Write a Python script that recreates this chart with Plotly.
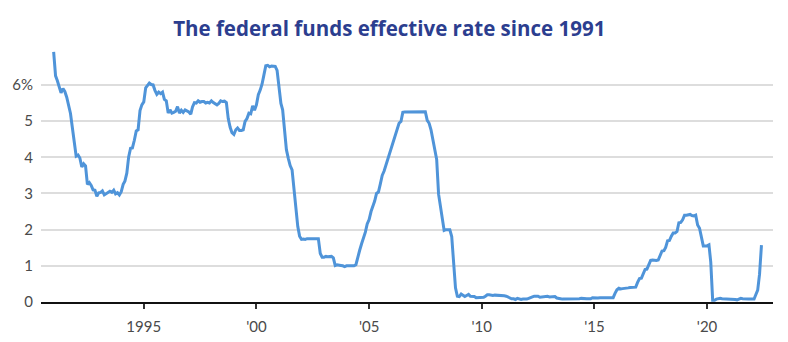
import pandas as pd
import plotly.graph_objects as go

# Monthly federal funds effective rate (%), Jan 1991 - Jun 2022
rates = [
    # 1991
    6.91, 6.25, 6.12, 5.91, 5.78, 5.90, 5.82, 5.66, 5.45, 5.21, 4.81, 4.43,
    # 1992
    4.03, 4.06, 3.98, 3.73, 3.82, 3.76, 3.25, 3.30, 3.22, 3.10, 3.09, 2.92,
    # 1993
    3.02, 3.03, 3.07, 2.96, 3.00, 3.04, 3.06, 3.03, 3.09, 2.99, 3.02, 2.96,
    # 1994
    3.05, 3.25, 3.34, 3.56, 4.01, 4.25, 4.26, 4.47, 4.73, 4.76, 5.29, 5.45,
    # 1995
    5.53, 5.92, 5.98, 6.05, 6.01, 6.00, 5.85, 5.74, 5.80, 5.76, 5.80, 5.60,
    # 1996
    5.56, 5.22, 5.31, 5.22, 5.24, 5.27, 5.40, 5.22, 5.30, 5.24, 5.31, 5.29,
    # 1997
    5.25, 5.19, 5.39, 5.51, 5.50, 5.56, 5.52, 5.54, 5.54, 5.50, 5.52, 5.50,
    # 1998
    5.56, 5.51, 5.49, 5.45, 5.49, 5.56, 5.54, 5.55, 5.51, 5.07, 4.83, 4.68,
    # 1999
    4.63, 4.76, 4.81, 4.74, 4.74, 4.76, 4.99, 5.07, 5.22, 5.20, 5.42, 5.30,
    # 2000
    5.45, 5.73, 5.85, 6.02, 6.27, 6.53, 6.54, 6.50, 6.52, 6.51, 6.51, 6.40,
    # 2001
    5.98, 5.49, 5.31, 4.80, 4.21, 3.97, 3.77, 3.65, 3.07, 2.49, 2.09, 1.82,
    # 2002
    1.73, 1.74, 1.73, 1.75, 1.75, 1.75, 1.73, 1.74, 1.75, 1.75, 1.34, 1.24,
    # 2003
    1.24, 1.26, 1.25, 1.26, 1.26, 1.22, 1.01, 1.03, 1.01, 1.01, 1.00, 0.98,
    # 2004
    1.00, 1.01, 1.00, 1.00, 1.00, 1.03, 1.26, 1.43, 1.61, 1.76, 1.93, 2.16,
    # 2005
    2.28, 2.50, 2.63, 2.79, 3.00, 3.04, 3.26, 3.50, 3.62, 3.78, 4.00, 4.16,
    # 2006
    4.29, 4.49, 4.59, 4.79, 4.94, 4.99, 5.24, 5.25, 5.25, 5.25, 5.25, 5.24,
    # 2007
    5.25, 5.26, 5.26, 5.25, 5.25, 5.25, 5.26, 5.02, 4.94, 4.76, 4.49, 4.24,
    # 2008
    3.94, 2.98, 2.61, 2.28, 1.98, 2.00, 2.01, 2.00, 1.81, 0.97, 0.39, 0.16,
    # 2009
    0.15, 0.22, 0.18, 0.15, 0.18, 0.21, 0.16, 0.16, 0.15, 0.12, 0.12, 0.12,
    # 2010
    0.11, 0.13, 0.16, 0.20, 0.20, 0.18, 0.18, 0.19, 0.19, 0.19, 0.19, 0.18,
    # 2011
    0.17, 0.16, 0.14, 0.10, 0.09, 0.09, 0.07, 0.10, 0.08, 0.07, 0.08, 0.07,
    # 2012
    0.08, 0.10, 0.13, 0.14, 0.16, 0.16, 0.16, 0.13, 0.14, 0.16, 0.16, 0.16,
    # 2013
    0.14, 0.15, 0.14, 0.15, 0.11, 0.09, 0.09, 0.08, 0.08, 0.09, 0.08, 0.09,
    # 2014
    0.07, 0.07, 0.08, 0.09, 0.09, 0.10, 0.09, 0.09, 0.09, 0.09, 0.09, 0.12,
    # 2015
    0.11, 0.11, 0.11, 0.12, 0.12, 0.13, 0.13, 0.14, 0.14, 0.12, 0.12, 0.24,
    # 2016
    0.34, 0.38, 0.36, 0.37, 0.37, 0.38, 0.39, 0.40, 0.40, 0.40, 0.41, 0.54,
    # 2017
    0.65, 0.66, 0.79, 0.90, 0.91, 1.04, 1.15, 1.16, 1.15, 1.15, 1.16, 1.30,
    # 2018
    1.41, 1.42, 1.51, 1.69, 1.70, 1.82, 1.91, 1.91, 1.95, 2.19, 2.20, 2.27,
    # 2019
    2.40, 2.40, 2.41, 2.42, 2.39, 2.38, 2.40, 2.13, 2.04, 1.83, 1.55, 1.55,
    # 2020
    1.55, 1.58, 1.10, 0.05, 0.05, 0.08, 0.09, 0.10, 0.09, 0.09, 0.09, 0.09,
    # 2021
    0.09, 0.08, 0.07, 0.07, 0.06, 0.08, 0.10, 0.09, 0.08, 0.08, 0.08, 0.08,
    # 2022
    0.08, 0.08, 0.20, 0.33, 0.77, 1.57,
]
dates = pd.date_range("1991-01-01", periods=len(rates), freq="MS")

x_tick_vals = ["1995-01-01", "2000-01-01", "2005-01-01", "2010-01-01", "2015-01-01", "2020-01-01"]
x_tick_text = ["1995", "'00", "'05", "'10", "'15", "'20"]
y_tick_vals = [0, 1, 2, 3, 4, 5, 6]
y_tick_text = ["0", "1", "2", "3", "4", "5", "6%"]

title_text = "The federal funds effective rate since 1991"

fig = go.Figure()
fig.add_trace(go.Scatter(
    x=dates, y=rates, mode="lines",
    line=dict(color="#4f94d9", width=3),
    hoverinfo="x+y",
))

fig.update_layout(
    width=788, height=342,
    margin=dict(l=41, r=15, t=48, b=40),
    paper_bgcolor="white", plot_bgcolor="white",
    showlegend=False,
    title=dict(
        text="<b>" + title_text + "</b>",
        x=0.494, xanchor="center", y=0.915, yanchor="middle",
        font=dict(family="Open Sans", size=20.5, color="#2c3e8f"),
    ),
    font=dict(family="Lato", size=15, color="#4a4a4a"),
)

fig.update_xaxes(
    type="date",
    range=["1990-06-10", "2022-12-05"],
    tickvals=x_tick_vals, ticktext=x_tick_text,
    showgrid=False, zeroline=False,
    showline=True, linecolor="#111111", linewidth=1.5,
    ticks="outside", ticklen=5, tickwidth=1.5, tickcolor="#333333",
    tickfont=dict(family="Lato", size=15, color="#4a4a4a"),
    ticklabelstandoff=5,
    automargin=False,
)
fig.update_yaxes(
    range=[0, 7.02],
    tickvals=y_tick_vals, ticktext=y_tick_text,
    showgrid=True, gridcolor="#dddddd", gridwidth=1.5,
    zeroline=False, showline=False, ticks="",
    tickfont=dict(family="Lato", size=15, color="#4a4a4a"),
    ticklabelstandoff=7,
    automargin=False,
)

fig.write_html("out.html")
